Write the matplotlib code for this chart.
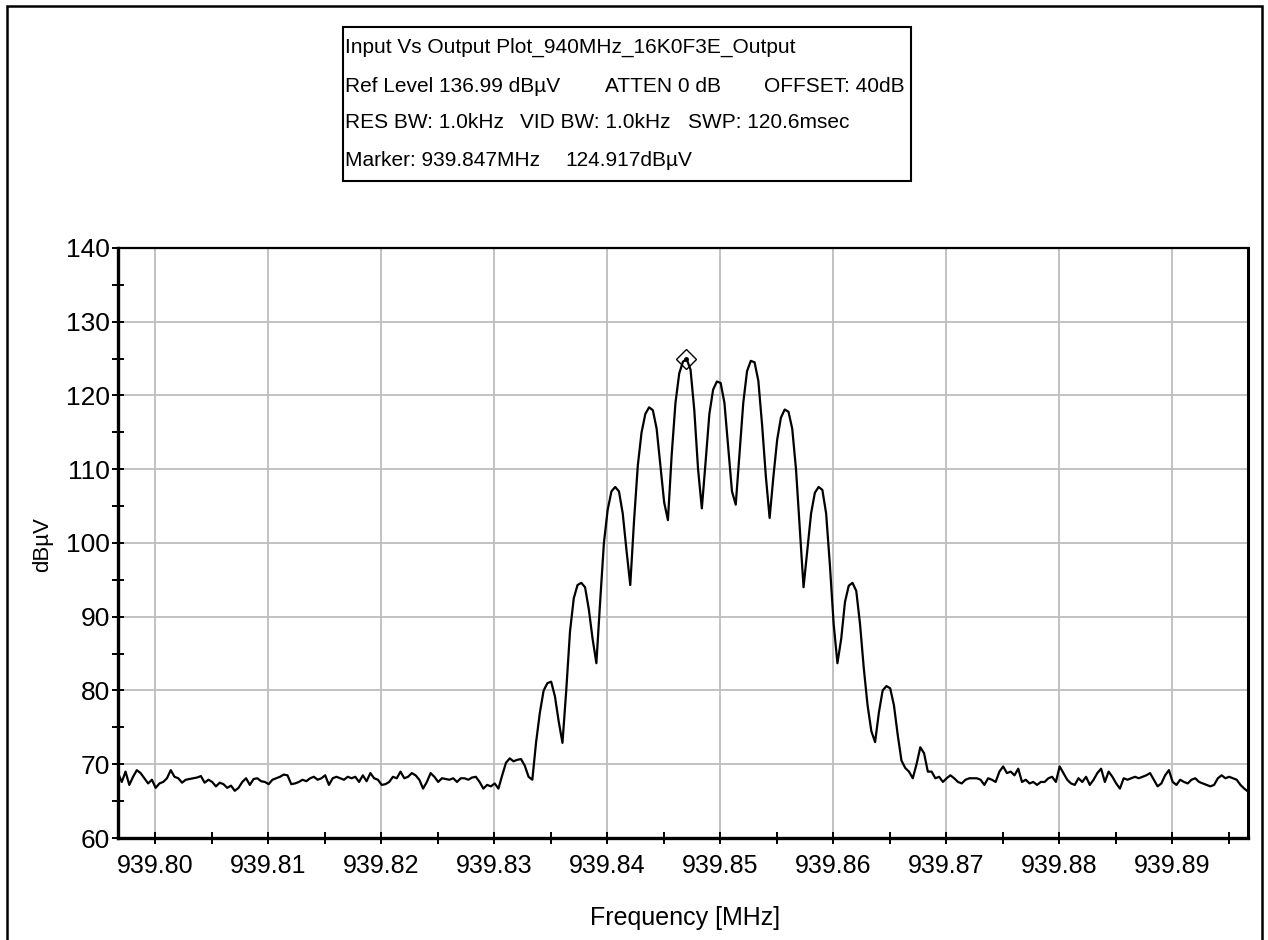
import matplotlib
matplotlib.use('Agg')
import matplotlib.pyplot as plt
import numpy as np
from matplotlib.ticker import MultipleLocator
from matplotlib.patches import Rectangle

plt.rcParams['font.family'] = ['Liberation Sans', 'DejaVu Sans']

# ---------------- data ----------------
f_start = 939.7967
f_stop = 939.8967

noise_left_a = [68.8, 67.6, 69.0, 67.2, 68.3, 69.2, 68.8, 68.1, 67.4, 67.9,
                66.8, 67.4, 67.6, 68.1, 69.2, 68.3, 68.1, 67.5, 67.9, 68.0,
                68.1, 68.2, 68.4, 67.5, 67.9, 67.6, 67.0, 67.5, 67.3, 66.8,
                67.1, 66.4, 66.8, 67.6, 68.1, 67.2, 68.0, 68.1, 67.7, 67.6,
                67.3, 67.9, 68.1, 68.3, 68.6, 68.5, 67.3, 67.4, 67.6, 67.9,
                67.7, 68.1]
noise_left_b = [68.3, 67.9, 68.1, 68.5, 67.2, 68.1, 68.3, 68.1, 67.9, 68.3,
                68.1, 68.3, 67.6, 68.5, 67.7, 68.8, 68.1, 67.9, 67.2, 67.3,
                67.6, 68.3, 68.1, 69.0, 68.1, 68.3, 68.8, 68.5, 67.9, 66.7,
                67.6, 68.8, 68.3, 67.6, 68.1, 68.0, 67.9, 68.1, 67.6, 68.1,
                68.1, 67.9, 68.2, 68.3, 67.6, 66.7, 67.2, 67.0, 67.4, 66.7,
                68.5]
carrier = [70.2, 70.8, 70.4, 70.6, 70.7, 69.8, 68.3, 67.9, 73.0, 77.0,
           80.0, 81.0, 81.2, 79.2, 75.8, 72.9, 80.0, 88.0, 92.5, 94.3,
           94.6, 94.0, 91.0, 87.0, 83.7, 92.0, 100.0, 104.5, 107.0, 107.6,
           107.0, 104.0, 99.0, 94.3, 103.0, 110.5, 115.0, 117.5, 118.4, 118.0,
           115.5, 110.5, 105.5, 103.1, 112.0, 119.0, 123.0, 124.6, 124.9, 123.5,
           118.0, 110.0, 104.7, 111.0, 117.5, 120.8, 121.9, 121.7, 119.0, 113.0,
           107.0, 105.2, 112.0, 119.0, 123.3, 124.7, 124.5, 122.0, 116.0, 109.0,
           103.4, 109.0, 114.0, 117.0, 118.1, 117.8, 115.5, 110.0, 102.0, 94.0,
           99.0, 104.0, 106.8, 107.6, 107.2, 104.0, 97.0, 89.0, 83.7, 87.0,
           92.0, 94.2, 94.6, 93.5, 89.0, 83.0, 78.0, 74.5, 73.0, 77.0,
           80.0, 80.6, 80.3, 78.0, 74.0, 70.5, 69.5, 69.0, 68.1, 70.0,
           72.3, 71.5, 69.0]
noise_right_a = [69.0, 68.1, 68.3, 67.6, 68.1, 68.5, 68.1, 67.6, 67.4, 67.9,
                 68.1, 68.1, 68.1, 67.9, 67.2, 68.1, 67.9, 67.6, 69.0, 69.7,
                 68.8, 69.0, 68.5, 69.4, 67.6, 67.9, 67.4, 67.6, 67.2, 67.6,
                 67.6, 68.1, 68.3, 67.6, 69.7, 68.8, 67.9, 67.4, 67.2]
noise_right_b = [68.1, 67.6, 68.3, 67.2, 67.9, 68.8, 69.4, 67.6, 69.0, 68.3,
                 67.4, 66.7, 68.1, 67.9, 68.1, 68.3, 68.1, 68.3, 68.5, 68.8,
                 67.9, 67.0, 67.4, 68.5, 69.2, 67.6, 67.2, 67.9, 67.6, 67.4,
                 67.9, 68.1, 67.6, 67.4, 67.2, 67.0, 67.2, 68.1, 68.5, 68.1,
                 68.3, 68.1, 67.9, 67.2, 66.7, 66.3]

level = noise_left_a + noise_left_b + carrier + noise_right_a + noise_right_b
freq = np.linspace(f_start, f_stop, len(level))

marker_freq = 939.847
marker_level = 124.917

x_ticks = [939.80, 939.81, 939.82, 939.83, 939.84, 939.85, 939.86, 939.87, 939.88, 939.89]
x_labels = ['939.80', '939.81', '939.82', '939.83', '939.84', '939.85', '939.86', '939.87', '939.88', '939.89']
y_ticks = [60, 70, 80, 90, 100, 110, 120, 130, 140]

info_lines = [
    [("Input Vs Output Plot_940MHz_16K0F3E_Output", 345)],
    [("Ref Level 136.99 dBµV", 345), ("ATTEN 0 dB", 605), ("OFFSET: 40dB", 764)],
    [("RES BW: 1.0kHz", 345), ("VID BW: 1.0kHz", 520), ("SWP: 120.6msec", 688)],
    [("Marker: 939.847MHz", 345), ("124.917dBµV", 565)],
]
info_y = [47, 86, 123, 160]

# ---------------- figure ----------------
W, H = 1268, 940
fig = plt.figure(figsize=(W / 100, H / 100), dpi=100)
fig.patch.set_facecolor('white')

def fx(px):
    return px / W

def fy(py):
    return 1 - py / H

# outer frame
fig.add_artist(Rectangle((fx(7), fy(960)), fx(1262) - fx(7), fy(6) - fy(960),
                         transform=fig.transFigure, fill=False, edgecolor='black',
                         linewidth=1.8, clip_on=False))

ax = fig.add_axes([fx(118), fy(838), fx(1248) - fx(118), fy(248) - fy(838)])
ax.plot(freq, level, color='black', linewidth=1.6, zorder=3)
ax.plot([marker_freq], [marker_level], marker='D', markersize=10.5,
        markerfacecolor='none', markeredgecolor='black', markeredgewidth=1.0,
        linestyle='none', zorder=4)
ax.plot([marker_freq], [marker_level], marker='o', markersize=2.5,
        color='black', linestyle='none', zorder=4)

ax.set_xlim(f_start, f_stop)
ax.set_ylim(60, 140)
ax.set_xticks(x_ticks)
ax.set_xticklabels(x_labels)
ax.set_yticks(y_ticks)
ax.xaxis.set_minor_locator(MultipleLocator(0.005))
ax.yaxis.set_minor_locator(MultipleLocator(5))

ax.tick_params(axis='both', which='both', direction='inout', length=9, width=1.4,
               colors='black')
ax.tick_params(axis='x', which='major', labelsize=18, pad=7)
ax.tick_params(axis='y', which='major', labelsize=19, pad=1)

ax.grid(True, which='major', color='#bdbdbd', linewidth=1.3, zorder=0)
ax.set_axisbelow(True)

for side, lw in [('left', 2.4), ('bottom', 2.4), ('right', 2.2), ('top', 1.6)]:
    ax.spines[side].set_linewidth(lw)
    ax.spines[side].set_color('black')

fig.text(fx(43), fy(545), 'dBµV', rotation=90, ha='center', va='center', fontsize=16)
fig.text(fx(685), fy(918), 'Frequency [MHz]', ha='center', va='center', fontsize=18)

# info box
fig.add_artist(Rectangle((fx(343), fy(181)), fx(911) - fx(343), fy(27) - fy(181),
                         transform=fig.transFigure, facecolor='white', edgecolor='black',
                         linewidth=1.5))
for segs, yy in zip(info_lines, info_y):
    for txt, xx in segs:
        fig.text(fx(xx), fy(yy), txt, ha='left', va='center', fontsize=15)

fig.savefig('out.png', dpi=100)
